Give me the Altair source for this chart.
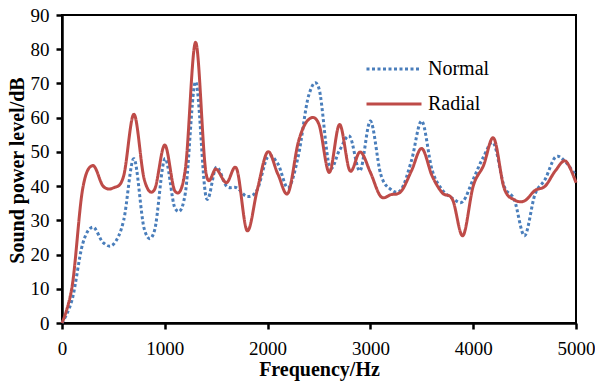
import altair as alt
import pandas as pd

freq = [0, 100, 200, 300, 400, 500, 600, 700, 800, 900,
        1000, 1100, 1200, 1300, 1400, 1500, 1600, 1700, 1800, 1900,
        2000, 2100, 2200, 2300, 2400, 2500, 2600, 2700, 2800, 2900,
        3000, 3100, 3200, 3300, 3400, 3500, 3600, 3700, 3800, 3900,
        4000, 4100, 4200, 4300, 4400, 4500, 4600, 4700, 4800, 4900, 5000]

normal = [0, 7, 23, 28, 23.5, 23, 30, 48, 27.5, 27,
          48, 33.5, 38, 70.5, 37, 45.5, 40, 39.5, 37, 39,
          48.5, 46.5, 39.5, 49, 66.5, 68.5, 46, 50.5, 54.5, 44.5,
          59, 43.5, 39, 39, 47.5, 59, 44.7, 38.9, 36.4, 35.5,
          42, 48.5, 52.5, 40, 36, 25.5, 37.5, 42, 48.5, 47, 43]

radial = [0, 11, 39, 46, 40, 39.5, 43, 61, 42, 39,
          52, 38.5, 45, 82, 44, 45, 41, 45, 27, 39,
          50, 43.5, 38, 53, 59.5, 58, 44, 58, 44.5, 50,
          44, 37, 37.5, 38.5, 44.5, 51, 43, 38, 36, 25.5,
          40, 46, 54, 39.5, 36, 35.7, 38.7, 40, 44.5, 47.3, 41]

series_names = ["Normal", "Radial"]
series_colors = ["#4A7EBB", "#BE4B48"]
series_dash = [[3, 2.5], [1, 0]]

x_ticks = [0, 1000, 2000, 3000, 4000, 5000]
y_ticks = [0, 10, 20, 30, 40, 50, 60, 70, 80, 90]

rows = []
for name, vals in zip(series_names, [normal, radial]):
    for f, v in zip(freq, vals):
        rows.append({"Frequency": f, "Level": v, "Series": name})
df = pd.DataFrame(rows)

FONT = "Liberation Serif"

legend = alt.Legend(
    orient="none", legendX=303, legendY=44, title=None,
    symbolType="stroke", symbolSize=3025, symbolStrokeWidth=3,
    clipHeight=20, rowPadding=15, labelFont=FONT, labelFontSize=20,
    labelColor="black", labelOffset=5, padding=0,
)

chart = alt.Chart(df).mark_line(interpolate="cardinal", strokeWidth=3, strokeCap="butt").encode(
    x=alt.X("Frequency:Q",
            scale=alt.Scale(domain=[0, 5000], nice=False, zero=True),
            axis=alt.Axis(values=x_ticks, title="Frequency/Hz", format="d",
                          titleBaseline="alphabetic", titleY=52,
                          labelPadding=10, labelFlush=False)),
    y=alt.Y("Level:Q",
            scale=alt.Scale(domain=[0, 90], nice=False),
            axis=alt.Axis(values=y_ticks, title="Sound  power level/dB",
                          titleX=-45, titleY=155, titleAngle=-90,
                          titleAlign="center", titleBaseline="middle",
                          labelPadding=7)),
    color=alt.Color("Series:N",
                    scale=alt.Scale(domain=series_names, range=series_colors),
                    legend=legend),
    strokeDash=alt.StrokeDash("Series:N",
                              scale=alt.Scale(domain=series_names, range=series_dash),
                              legend=legend),
    order=alt.Order("Series:N"),
).properties(
    width=514, height=308,
    autosize=alt.AutoSizeParams(type="none"),
    padding={"left": 62, "top": 15, "right": 19, "bottom": 59},
).configure(
    background="white"
).configure_view(
    stroke="black", strokeWidth=2,
).configure_axis(
    grid=False, domainColor="black", domainWidth=2.5,
    tickColor="black", tickWidth=2.5, tickSize=6,
    labelFont=FONT, labelFontSize=19, labelColor="black",
    titleFont=FONT, titleFontSize=20, titleFontWeight="bold", titleColor="black",
)

chart.save("out.html", embed_options={"renderer": "svg", "actions": False})
